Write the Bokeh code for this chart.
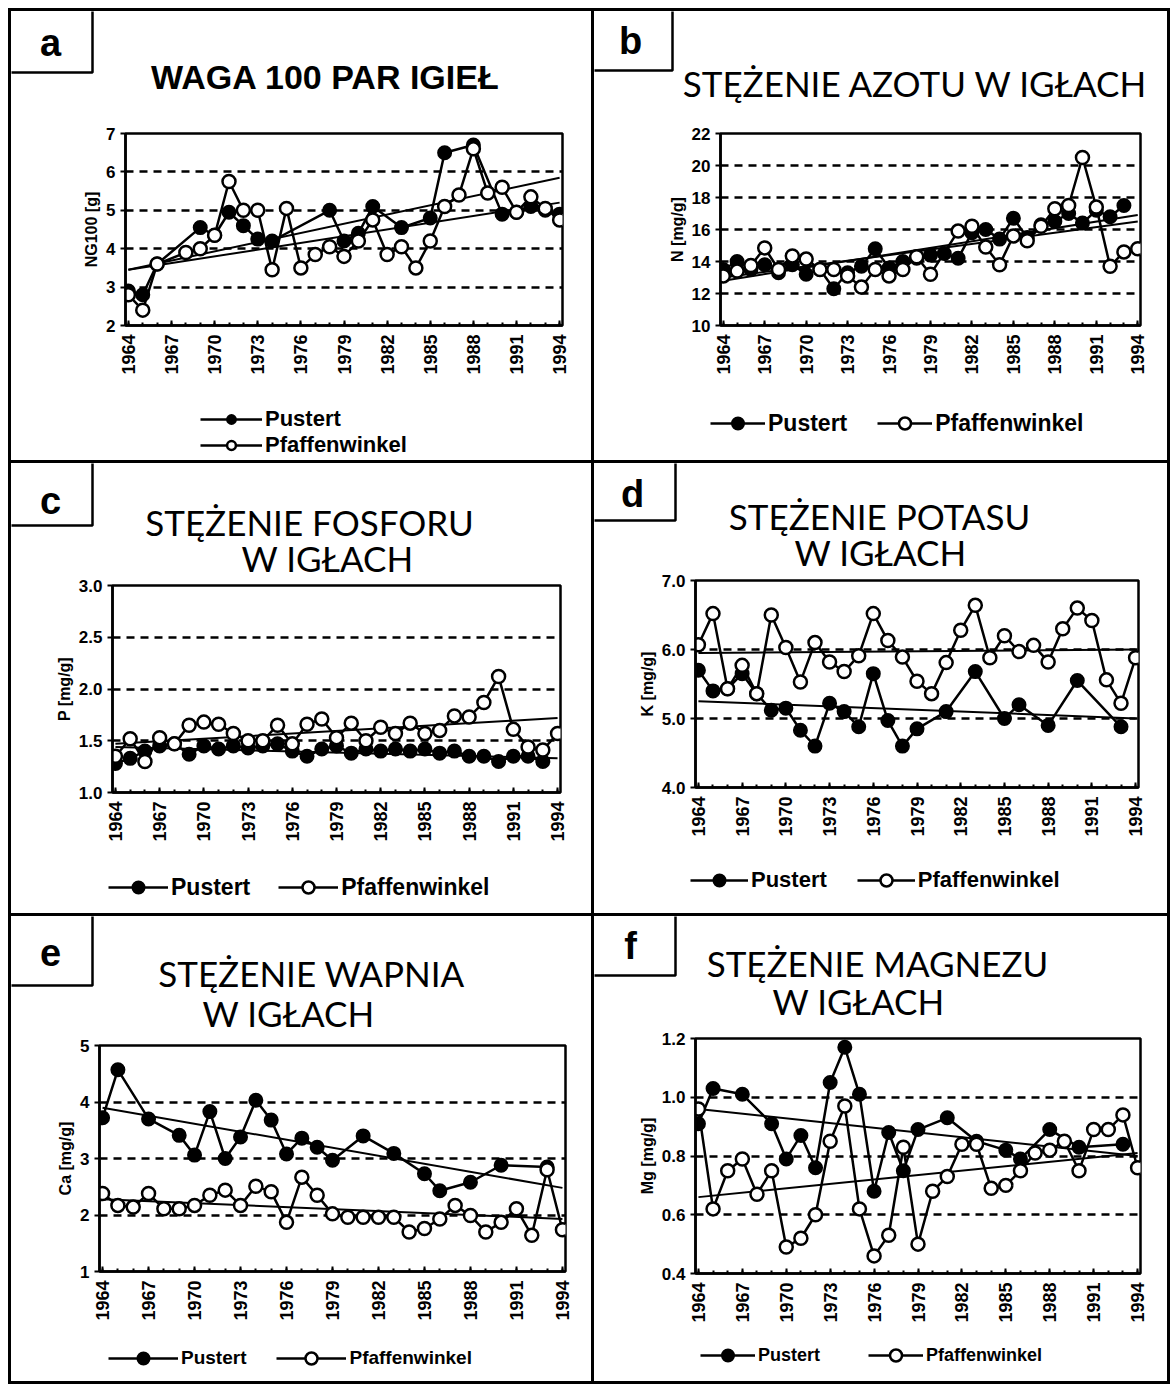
import math
from bokeh.plotting import figure
from bokeh.models import (ColumnDataSource, Legend, LegendItem, Label, BoxAnnotation,
                          FixedTicker, Range1d, NumeralTickFormatter)
from bokeh.layouts import column, row
from bokeh.embed import file_html
from bokeh.resources import INLINE

years = list(range(1964, 1995))
tick_years = [1964, 1967, 1970, 1973, 1976, 1979, 1982, 1985, 1988, 1991, 1994]
trend_years = [1964, 1994]
series_names = ["Pustert", "Pfaffenwinkel"]

# a: needle weight NG100 [g]
a_pustert = [2.9, 2.8, 3.6, None, None, 4.55, 4.35, 4.95, 4.6, 4.25, 4.2, None, None, None, 5.0, 4.2,
             4.4, 5.1, None, 4.55, None, 4.8, 6.5, None, 6.7, None, 4.9, 4.95, 5.1, 5.0, 4.9]
a_pfaff = [2.8, 2.4, 3.6, None, 3.9, 4.0, 4.35, 5.75, 5.0, 5.0, 3.45, 5.05, 3.5, 3.85, 4.05, 3.8,
           4.2, 4.75, 3.85, 4.05, 3.5, 4.2, 5.1, 5.4, 6.6, 5.45, 5.6, 4.95, 5.35, 5.05, 4.75]
a_trend_pustert = [3.45, 5.2]
a_trend_pfaff = [3.45, 5.85]

# b: N [mg/g]
b_pustert = [13.5, 14.0, 13.5, 13.8, 13.3, 13.8, 13.2, 13.5, 12.3, 13.3, 13.7, 14.8, 13.6, 14.0, 14.2, 14.4,
             14.5, 14.2, 15.8, 16.0, 15.4, 16.7, 15.5, 16.3, 16.5, 17.0, 16.4, 17.2, 16.8, 17.5, None]
b_pfaff = [13.1, 13.4, 13.75, 14.85, 13.5, 14.35, 14.15, 13.5, 13.5, 13.1, 12.4, 13.5, 13.1, 13.5, 14.3, 13.2,
           None, 15.9, 16.2, 14.9, 13.8, 15.6, 15.3, 16.2, 17.3, 17.5, 20.5, 17.4, 13.7, 14.6, 14.8]
b_trend_pustert = [12.8, 16.9]
b_trend_pfaff = [13.0, 16.5]

# c: P [mg/g]
c_pustert = [1.28, 1.33, 1.4, 1.45, 1.47, 1.37, 1.45, 1.42, 1.45, 1.43, 1.45, 1.47, 1.4, 1.35, 1.42, 1.45,
             1.38, 1.42, 1.4, 1.42, 1.4, 1.42, 1.38, 1.4, 1.35, 1.35, 1.3, 1.35, 1.35, 1.3, None]
c_pfaff = [1.35, 1.52, 1.3, 1.53, 1.47, 1.65, 1.68, 1.66, 1.57, 1.5, 1.5, 1.65, 1.47, 1.66, 1.71, 1.53,
           1.67, 1.5, 1.63, 1.57, 1.67, 1.57, 1.6, 1.74, 1.73, 1.87, 2.12, 1.61, 1.44, 1.41, 1.57]
c_trend_pustert = [1.44, 1.33]
c_trend_pfaff = [1.47, 1.72]

# d: K [mg/g]
d_pustert = [5.7, 5.4, 5.43, 5.65, 5.36, 5.12, 5.15, 4.83, 4.6, 5.22, 5.1, 4.88, 5.65, 4.97, 4.6, 4.85,
             None, 5.1, None, 5.68, None, 5.0, 5.2, None, 4.9, None, 5.55, None, None, 4.88, None]
d_pfaff = [6.07, 6.52, 5.43, 5.77, 5.36, 6.5, 6.03, 5.53, 6.1, 5.82, 5.68, 5.91, 6.52, 6.13, 5.89, 5.54,
           5.36, 5.81, 6.28, 6.64, 5.88, 6.2, 5.97, 6.06, 5.82, 6.3, 6.6, 6.42, 5.56, 5.22, 5.88]
d_trend_pustert = [5.25, 5.0]
d_trend_pfaff = [5.95, 6.0]

# e: Ca [mg/g]
e_pustert = [3.72, 4.57, None, 3.7, None, 3.41, 3.06, 3.83, 3.0, 3.38, 4.03, 3.68, 3.08, 3.36, 3.2, 2.97,
             None, 3.4, None, 3.09, None, 2.73, 2.43, None, 2.58, None, 2.88, None, None, 2.85, None]
e_pfaff = [2.38, 2.17, 2.14, 2.38, 2.11, 2.11, 2.17, 2.35, 2.44, 2.17, 2.51, 2.41, 1.87, 2.67, 2.35, 2.02,
           1.96, 1.96, 1.96, 1.96, 1.7, 1.76, 1.93, 2.17, 1.99, 1.7, 1.87, 2.11, 1.64, 2.8, 1.74]
e_trend_pustert = [3.9, 2.48]
e_trend_pfaff = [2.28, 1.93]

# f: Mg [mg/g]
f_pustert = [0.91, 1.03, None, 1.01, None, 0.91, 0.79, 0.87, 0.76, 1.05, 1.17, 1.01, 0.68, 0.88, 0.75, 0.89,
             None, 0.93, None, 0.85, None, 0.82, 0.79, None, 0.89, None, 0.83, None, None, 0.84, None]
f_pfaff = [0.96, 0.62, 0.75, 0.79, 0.67, 0.75, 0.49, 0.52, 0.60, 0.85, 0.97, 0.62, 0.46, 0.53, 0.83, 0.50,
           0.68, 0.73, 0.84, 0.84, 0.69, 0.70, 0.75, 0.81, 0.82, 0.85, 0.75, 0.89, 0.89, 0.94, 0.76]
f_trend_pustert = [0.96, 0.80]
f_trend_pfaff = [0.66, 0.81]

BOLD = "Liberation Sans"
TF = "Lato"


def src(vals):
    xs = [y for y, v in zip(years, vals) if v is not None]
    vs = [v for v in vals if v is not None]
    return ColumnDataSource(dict(x=xs, y=vs))


def blank(W, H):
    p = figure(width=W, height=H, output_backend="svg", toolbar_location=None,
               x_axis_type=None, y_axis_type=None, min_border=0, frame_align=False,
               x_range=Range1d(0, W), y_range=Range1d(H, 0))
    p.outline_line_color = None
    p.background_fill_color = "white"
    p.border_fill_color = "white"
    p.grid.visible = False
    return p


def make_panel(c):
    ox, oy, W, H = c["ox"], c["oy"], c["W"], c["H"]
    fx0, fx1, fy0, fy1 = c["frame"]
    top_pad = 8
    bot = c["bot"]
    Hh = fy0 - top_pad - oy
    Hc = (fy1 + bot) - (fy0 - top_pad)
    Hf = H - Hh - Hc

    # ---- header: letter box + title
    hd = blank(W, Hh)
    lx1, ly1 = c["lbox"]
    hd.add_layout(BoxAnnotation(left=-10, top=-10, right=lx1 - ox, bottom=ly1 - oy,
                                fill_alpha=0.0, line_color="black", line_width=2.5, line_alpha=1.0))
    lcx, lcy = c["lxy"]
    hd.add_layout(Label(x=lcx - ox, y=lcy - oy, text=c["letter"], text_align="center",
                        text_baseline="middle", text_font=BOLD, text_font_style="bold",
                        text_font_size="38px", text_color="black"))
    for (t, tx, ty) in c["titles"]:
        hd.add_layout(Label(x=tx - ox, y=ty - oy, text=t, text_align="center", text_baseline="middle",
                            text_font=c["tfont"], text_font_style=c["tstyle"],
                            text_font_size=c["tsize"], text_color="black"))

    # ---- chart
    p = figure(width=W, height=Hc, output_backend="svg", toolbar_location=None, frame_align=False,
               x_range=Range1d(1963.8, 1994.2), y_range=Range1d(*c["yr"]),
               min_border_left=fx0 - ox, min_border_right=ox + W - fx1,
               min_border_top=top_pad, min_border_bottom=bot)
    p.background_fill_color = "white"
    p.border_fill_color = "white"
    p.outline_line_color = "black"
    p.outline_line_width = 2.5
    p.outline_line_alpha = 1.0
    p.xgrid.visible = False
    p.ygrid.grid_line_color = "black"
    p.ygrid.grid_line_dash = "8 6"
    p.ygrid.grid_line_width = 2.5
    p.ygrid.ticker = FixedTicker(ticks=c["yticks"])

    xa = p.xaxis[0]
    xa.ticker = FixedTicker(ticks=tick_years, minor_ticks=years)
    xa.major_label_orientation = math.pi / 2
    xa.major_label_text_font = BOLD
    xa.major_label_text_font_style = "bold"
    xa.major_label_text_font_size = "18px"
    xa.major_label_text_color = "black"
    xa.major_label_standoff = 9
    xa.major_tick_in = 5
    xa.major_tick_out = 0
    xa.minor_tick_in = 3
    xa.minor_tick_out = 0
    xa.axis_line_width = 2.5
    xa.major_tick_line_width = 2
    xa.minor_tick_line_width = 2

    ya = p.yaxis[0]
    ya.ticker = FixedTicker(ticks=c["yticks"])
    if c.get("yfmt"):
        ya.formatter = NumeralTickFormatter(format=c["yfmt"])
    ya.major_label_text_font = BOLD
    ya.major_label_text_font_style = "bold"
    ya.major_label_text_font_size = "17px"
    ya.major_label_text_color = "black"
    ya.major_tick_in = 0
    ya.major_tick_out = 5
    ya.minor_tick_line_color = None
    ya.axis_line_width = 2.5
    ya.major_tick_line_width = 2
    ya.axis_label = c["ylabel"]
    ya.axis_label_text_font = BOLD
    ya.axis_label_text_font_style = "bold"
    ya.axis_label_text_font_size = "16px"
    ya.axis_label_text_color = "black"
    ya.axis_label_standoff = 3

    p.line(trend_years, c["tr_pus"], line_color="black", line_width=2)
    p.line(trend_years, c["tr_pfa"], line_color="black", line_width=2)
    s_pus = src(c["pus"])
    s_pfa = src(c["pfa"])
    p.line("x", "y", source=s_pus, line_color="black", line_width=2.5)
    p.scatter("x", "y", source=s_pus, marker="circle", size=13, fill_color="black",
              line_color="black", line_width=2)
    p.line("x", "y", source=s_pfa, line_color="black", line_width=2.5)
    p.scatter("x", "y", source=s_pfa, marker="circle", size=13, fill_color="white",
              line_color="black", line_width=2.5)

    # ---- footer: legend (its sample glyphs are kept outside the visible range)
    ft = blank(W, Hf)
    far = [-1000, -999]
    l1 = ft.line(x=far, y=far, line_color="black", line_width=2.5)
    m1 = ft.scatter(x=far, y=far, marker="circle", size=13, fill_color="black", line_color="black",
                    line_width=2)
    l2 = ft.line(x=far, y=far, line_color="black", line_width=2.5)
    m2 = ft.scatter(x=far, y=far, marker="circle", size=13, fill_color="white", line_color="black",
                    line_width=2.5)
    lgx, lgb = c["leg"]
    gh = c.get("gh", 30)
    leg = Legend(items=[LegendItem(label=series_names[0], renderers=[l1, m1]),
                        LegendItem(label=series_names[1], renderers=[l2, m2])],
                 location=(lgx - ox, (oy + H) - lgb), orientation=c["leg_orient"],
                 label_text_font=BOLD, label_text_font_style="bold", label_text_color="black",
                 label_text_font_size=c["leg_fs"], glyph_width=c["gw"], glyph_height=gh,
                 label_height=gh, label_standoff=3, spacing=c["leg_spacing"], padding=0,
                 border_line_color=None, background_fill_alpha=0.0, margin=0)
    ft.add_layout(leg, "center")

    return column(hd, p, ft, spacing=0, styles={"background-color": "white"})


TS = "35px"
panels = [
    dict(ox=11, oy=11, W=580, H=449, frame=(125, 562, 133, 325), bot=70,
         yr=(2, 7), yticks=[2, 3, 4, 5, 6, 7], ylabel="NG100 [g]",
         pus=a_pustert, pfa=a_pfaff, tr_pus=a_trend_pustert, tr_pfa=a_trend_pfaff,
         leg=(200, 458), leg_orient="vertical", leg_fs="22px", leg_spacing=-3, gw=62, gh=22,
         lbox=(92, 72), lxy=(50, 42), letter="a",
         titles=[("WAGA 100 PAR IGIEŁ", 325, 76)], tfont="Liberation Sans", tstyle="bold", tsize="34px"),
    dict(ox=594, oy=11, W=573, H=449, frame=(720, 1140, 133, 325), bot=70,
         yr=(10, 22), yticks=[10, 12, 14, 16, 18, 20, 22], ylabel="N [mg/g]",
         pus=b_pustert, pfa=b_pfaff, tr_pus=b_trend_pustert, tr_pfa=b_trend_pfaff,
         leg=(710, 438), leg_orient="horizontal", leg_fs="23px", leg_spacing=30, gw=55,
         lbox=(672, 70), lxy=(630, 40), letter="b",
         titles=[("STĘŻENIE AZOTU W IGŁACH", 915, 82)], tfont=TF, tstyle="normal", tsize=TS),
    dict(ox=11, oy=463, W=580, H=450, frame=(112, 560, 585, 792), bot=66,
         yr=(1.0, 3.0), yticks=[1.0, 1.5, 2.0, 2.5, 3.0], yfmt="0.0", ylabel="P [mg/g]",
         pus=c_pustert, pfa=c_pfaff, tr_pus=c_trend_pustert, tr_pfa=c_trend_pfaff,
         leg=(108, 902), leg_orient="horizontal", leg_fs="23px", leg_spacing=28, gw=60,
         lbox=(92, 525), lxy=(50, 500), letter="c",
         titles=[("STĘŻENIE FOSFORU", 309, 521), ("W IGŁACH", 327, 557)], tfont=TF, tstyle="normal",
         tsize=TS),
    dict(ox=594, oy=463, W=573, H=450, frame=(695, 1138, 580, 787), bot=66,
         yr=(4.0, 7.0), yticks=[4.0, 5.0, 6.0, 7.0], yfmt="0.0", ylabel="K [mg/g]",
         pus=d_pustert, pfa=d_pfaff, tr_pus=d_trend_pustert, tr_pfa=d_trend_pfaff,
         leg=(690, 895), leg_orient="horizontal", leg_fs="22px", leg_spacing=30, gw=58,
         lbox=(675, 520), lxy=(632, 493), letter="d",
         titles=[("STĘŻENIE POTASU", 879, 515), ("W IGŁACH", 880, 551)], tfont=TF, tstyle="normal",
         tsize=TS),
    dict(ox=11, oy=916, W=580, H=465, frame=(99, 565, 1045, 1271), bot=62,
         yr=(1, 5), yticks=[1, 2, 3, 4, 5], ylabel="Ca [mg/g]",
         pus=e_pustert, pfa=e_pfaff, tr_pus=e_trend_pustert, tr_pfa=e_trend_pfaff,
         leg=(108, 1373), leg_orient="horizontal", leg_fs="19px", leg_spacing=30, gw=70,
         lbox=(92, 985), lxy=(50, 952), letter="e",
         titles=[("STĘŻENIE WAPNIA", 311, 972), ("W IGŁACH", 288, 1012)], tfont=TF, tstyle="normal",
         tsize=TS),
    dict(ox=594, oy=916, W=573, H=465, frame=(695, 1140, 1038, 1273), bot=62,
         yr=(0.4, 1.2), yticks=[0.4, 0.6, 0.8, 1.0, 1.2], yfmt="0.0", ylabel="Mg [mg/g]",
         pus=f_pustert, pfa=f_pfaff, tr_pus=f_trend_pustert, tr_pfa=f_trend_pfaff,
         leg=(700, 1370), leg_orient="horizontal", leg_fs="18px", leg_spacing=48, gw=55,
         lbox=(675, 975), lxy=(630, 945), letter="f",
         titles=[("STĘŻENIE MAGNEZU", 877, 962), ("W IGŁACH", 858, 1000)], tfont=TF, tstyle="normal",
         tsize=TS),
]

P = [make_panel(c) for c in panels]
layout = column(row(P[0], P[1], spacing=3), row(P[2], P[3], spacing=3),
                row(P[4], P[5], spacing=3), spacing=3, margin=(8, 0, 0, 8),
                styles={"background-color": "black", "padding": "3px"})

open("out.html", "w").write(file_html(layout, INLINE))
